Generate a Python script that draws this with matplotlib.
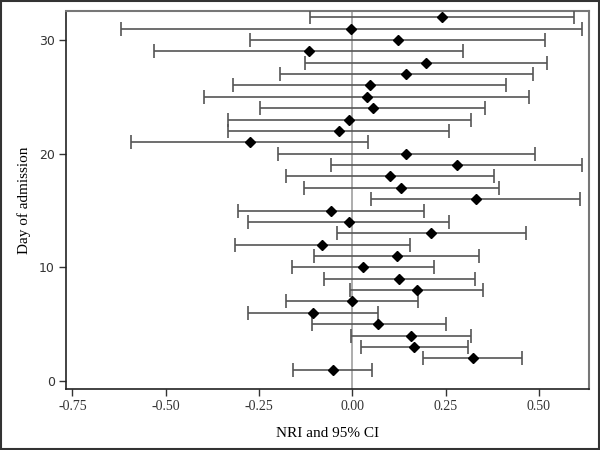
import matplotlib
matplotlib.use("Agg")
import matplotlib.pyplot as plt
from matplotlib.patches import Rectangle

days = list(range(1, 33))
nri = [-0.053, 0.322, 0.166, 0.156, 0.070, -0.105, 0.000, 0.173,
       0.126, 0.028, 0.119, -0.080, 0.211, -0.010, -0.056, 0.330,
       0.131, 0.101, 0.280, 0.145, -0.275, -0.036, -0.008, 0.055,
       0.038, 0.047, 0.145, 0.197, -0.117, 0.122, -0.003, 0.240]
ci_low = [-0.160, 0.189, 0.022, -0.003, -0.109, -0.280, -0.177, -0.005,
          -0.076, -0.162, -0.102, -0.313, -0.042, -0.280, -0.306, 0.050,
          -0.130, -0.178, -0.058, -0.199, -0.593, -0.333, -0.333, -0.247,
          -0.396, -0.319, -0.194, -0.128, -0.532, -0.275, -0.619, -0.113]
ci_high = [0.054, 0.454, 0.310, 0.317, 0.250, 0.068, 0.176, 0.351,
           0.329, 0.219, 0.339, 0.154, 0.465, 0.258, 0.193, 0.610,
           0.393, 0.379, 0.616, 0.489, 0.043, 0.260, 0.317, 0.356,
           0.472, 0.413, 0.484, 0.521, 0.296, 0.517, 0.615, 0.593]
xticks = [-0.75, -0.50, -0.25, 0.00, 0.25, 0.50]
xticklabels = ["-0.75", "-0.50", "-0.25", "0.00", "0.25", "0.50"]
yticks = [0, 10, 20, 30]

fig = plt.figure(figsize=(6, 4.5), dpi=100)
ax = fig.add_axes([66/600, 1-389/450, (589-66)/600, (389-11)/450])

ax.axvline(0, color="#a0a0a0", lw=1.2, zorder=1)
xerr = [[n - l for n, l in zip(nri, ci_low)], [h - n for n, h in zip(nri, ci_high)]]
ax.errorbar(nri, days, xerr=xerr, fmt="D", color="black", ms=5,
            ecolor="#555555", elinewidth=1.2, capsize=5, capthick=1.2, zorder=3)

ax.set_xlim(-0.767, 0.634)
ax.set_ylim(-0.7, 32.55)
ax.set_xticks(xticks)
ax.set_xticklabels(xticklabels, family="Liberation Serif", fontsize=10, color="#333333")
ax.set_yticks(yticks)
ax.set_yticklabels([str(t) for t in yticks], family="DejaVu Sans", fontsize=9, color="#333333")
ax.tick_params(direction="out", length=5, width=1, color="#333333", pad=3)

for s in ["left", "bottom"]:
    ax.spines[s].set_color("#222222")
    ax.spines[s].set_linewidth(1.2)
for s in ["top", "right"]:
    ax.spines[s].set_color("#777777")
    ax.spines[s].set_linewidth(1.5)

ax.set_xlabel("NRI and 95% CI", family="Liberation Serif", fontsize=11, labelpad=10)
ax.set_ylabel("Day of admission", family="Liberation Serif", fontsize=11, labelpad=6)

fig.patches.append(Rectangle((0.002, 0.002), 0.996, 0.996, transform=fig.transFigure,
                             fill=False, edgecolor="#333333", lw=1.5))

fig.savefig("out.png", dpi=100)
